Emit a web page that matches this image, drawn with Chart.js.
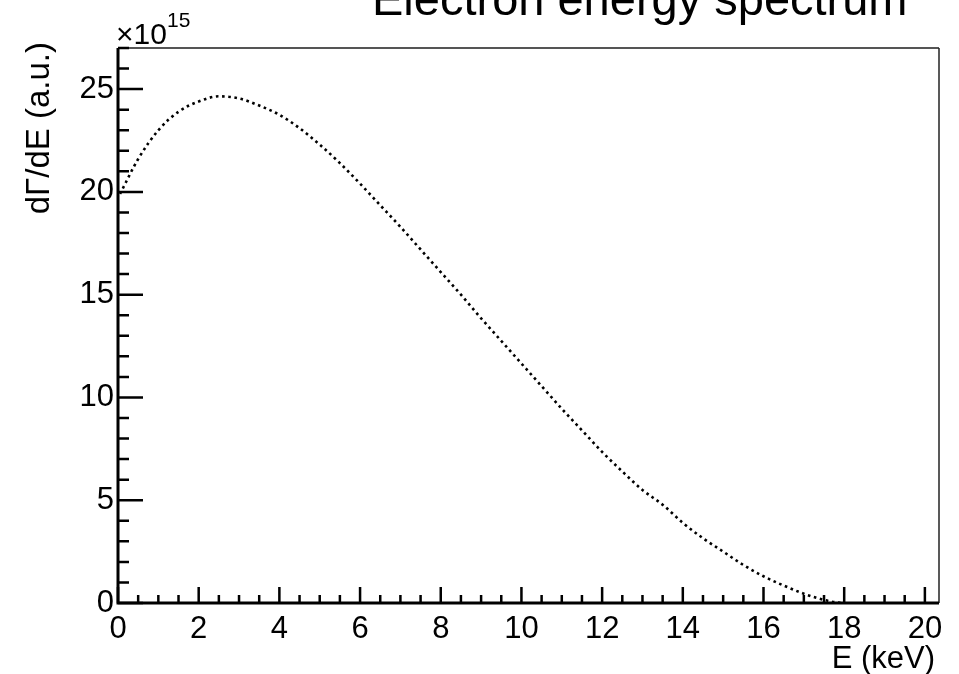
<!DOCTYPE html>
<html>
<head>
<meta charset="utf-8">
<script src="https://cdn.jsdelivr.net/npm/chart.js@4.4.0/dist/chart.umd.min.js"></script>
<style>
  html,body{margin:0;padding:0;background:#fff;}
  #wrap{width:959px;height:674px;position:relative;}
</style>
</head>
<body>
<div id="wrap"><canvas id="c" width="959" height="674"></canvas></div>
<script>
// Data (values in units of 1e15)
const energyKeV = [0.05, 0.5, 1.0, 1.5, 2.0, 2.5, 3.0, 3.5, 4.0, 4.5, 5.0, 5.5, 6.0, 6.5, 7.0, 7.5, 8.0, 8.5, 9.0, 9.5, 10.0, 10.5, 11.0, 11.5, 12.0, 12.5, 13.0, 13.5, 14.0, 14.5, 15.0, 15.5, 16.0, 16.5, 17.0, 17.5, 17.8, 18.0];
const rateValues = [19.9, 21.6, 23.0, 23.9, 24.4, 24.65, 24.55, 24.2, 23.75, 23.1, 22.3, 21.4, 20.4, 19.35, 18.3, 17.2, 16.1, 15.0, 13.85, 12.75, 11.65, 10.55, 9.45, 8.4, 7.35, 6.4, 5.5, 4.78, 3.9, 3.15, 2.5, 1.85, 1.3, 0.85, 0.45, 0.15, 0.03, 0.0];
const xTickLabels = [0, 2, 4, 6, 8, 10, 12, 14, 16, 18, 20];
const yTickLabels = [0, 5, 10, 15, 20, 25];
const xMinorStep = 0.5;
const yMinorStep = 1;
const chartTitle = "Electron energy spectrum";
const xTitle = "E (keV)";
const yTitle = "dΓ/dE (a.u.)";
const FONT = "'Liberation Sans', Arial, sans-serif";

const rootStyle = {
  id: 'rootStyle',
  afterDraw(chart) {
    const ctx = chart.ctx;
    const a = chart.chartArea;
    const xs = chart.scales.x, ys = chart.scales.y;
    ctx.save();
    // frame top/right
    ctx.strokeStyle = '#555';
    ctx.lineWidth = 2;
    ctx.beginPath();
    ctx.moveTo(a.left, a.top); ctx.lineTo(a.right, a.top);
    ctx.stroke();
    ctx.strokeStyle = '#222';
    ctx.lineWidth = 1.5;
    ctx.beginPath();
    ctx.moveTo(a.right, a.top); ctx.lineTo(a.right, a.bottom);
    ctx.stroke();
    // axes
    ctx.strokeStyle = '#000';
    ctx.lineWidth = 3;
    ctx.beginPath();
    ctx.moveTo(a.left, a.top); ctx.lineTo(a.left, a.bottom + 1.5);
    ctx.moveTo(a.left - 1.5, a.bottom); ctx.lineTo(a.right, a.bottom);
    ctx.stroke();
    // x ticks
    ctx.lineWidth = 2.5;
    ctx.beginPath();
    for (let v = 0; v <= xs.max + 1e-9; v += xMinorStep) {
      const px = xs.getPixelForValue(v);
      const major = Math.abs(v / 2 - Math.round(v / 2)) < 1e-6;
      ctx.moveTo(px, a.bottom);
      ctx.lineTo(px, a.bottom - (major ? 16 : 8));
    }
    // y ticks
    for (let v = 0; v <= ys.max + 1e-9; v += yMinorStep) {
      const py = ys.getPixelForValue(v);
      const major = v % 5 === 0;
      ctx.moveTo(a.left, py);
      ctx.lineTo(a.left + (major ? 25 : 11), py);
    }
    ctx.stroke();
    // texts
    ctx.fillStyle = '#000';
    ctx.textBaseline = 'alphabetic';
    ctx.font = '47px ' + FONT;
    ctx.textAlign = 'left';
    ctx.fillText(chartTitle, 372, 15);
    ctx.font = '31px ' + FONT;
    ctx.textAlign = 'right';
    ctx.fillText(xTitle, 935, 668);
    // multiplier
    ctx.textAlign = 'left';
    ctx.font = '30px ' + FONT;
    ctx.fillText('×10', 116, 44);
    ctx.font = '21px ' + FONT;
    ctx.fillText('15', 167, 27);
    // y title
    ctx.save();
    ctx.translate(49, a.top - 6);
    ctx.rotate(-Math.PI / 2);
    ctx.textAlign = 'right';
    ctx.font = '33px ' + FONT;
    ctx.fillText(yTitle, 0, 0);
    ctx.restore();
    ctx.restore();
  }
};

new Chart(document.getElementById('c'), {
  type: 'line',
  data: {
    datasets: [{
      data: energyKeV.map((x, i) => ({ x: x, y: rateValues[i] })),
      borderColor: '#000',
      borderWidth: 2.6,
      borderDash: [2.6, 3.6],
      pointRadius: 0,
      fill: false,
      cubicInterpolationMode: 'monotone'
    }]
  },
  options: {
    responsive: false,
    animation: false,
    devicePixelRatio: 1,
    layout: { padding: { top: 48, right: 20, left: 0, bottom: 0 } },
    plugins: { legend: { display: false }, tooltip: { enabled: false }, title: { display: false } },
    scales: {
      x: {
        type: 'linear', min: 0, max: 20.35,
        afterBuildTicks: (s) => { s.ticks = xTickLabels.map(v => ({ value: v })); },
        afterFit: (s) => { s.height = 71; },
        grid: { display: false, drawTicks: false },
        border: { display: false },
        ticks: { color: '#000', font: { family: FONT, size: 31 }, padding: 8, maxRotation: 0, autoSkip: false }
      },
      y: {
        type: 'linear', min: 0, max: 27,
        afterBuildTicks: (s) => { s.ticks = yTickLabels.map(v => ({ value: v })); },
        afterFit: (s) => { s.width = 118; },
        grid: { display: false, drawTicks: false },
        border: { display: false },
        ticks: { color: '#000', font: { family: FONT, size: 31 }, padding: 4, autoSkip: false }
      }
    }
  },
  plugins: [rootStyle]
});
</script>
</body>
</html>
